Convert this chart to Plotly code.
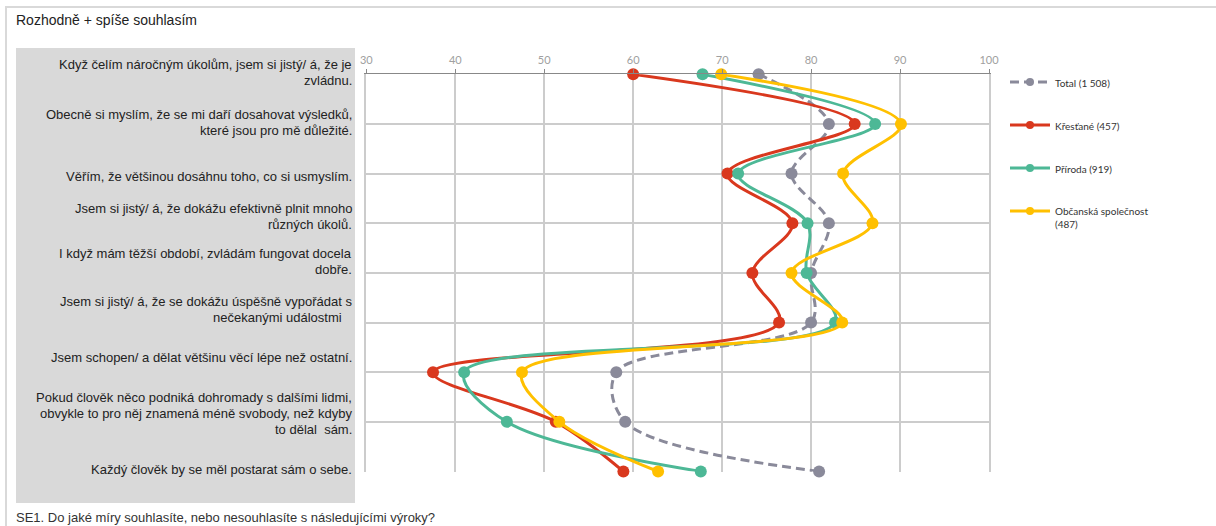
import plotly.graph_objects as go

W, H = 1216, 526

categories = [
    "Když čelím náročným úkolům, jsem si jistý/ á, že je<br>zvládnu.",
    "Obecně si myslím, že se mi daří dosahovat výsledků,<br>které jsou pro mě důležité.",
    "Věřím, že většinou dosáhnu toho, co si usmyslím.",
    "Jsem si jistý/ á, že dokážu efektivně plnit mnoho<br>různých úkolů.",
    "I když mám těžší období, zvládám fungovat docela<br>dobře.",
    "Jsem si jistý/ á, že se dokážu úspěšně vypořádat s<br>nečekanými událostmi\u00a0\u00a0\u00a0",
    "Jsem schopen/ a dělat většinu věcí lépe než ostatní.",
    "Pokud člověk něco podniká dohromady s dalšími lidmi,<br>obvykle to pro něj znamená méně svobody, než kdyby<br>to dělal \u00a0sám.",
    "Každý člověk by se měl postarat sám o sebe.",
]

series_names = ["Total (1 508)", "Křesťané (457)", "Příroda (919)", "Občanská společnost<br>(487)"]
total = [74.1, 82.0, 77.8, 82.0, 80.0, 80.0, 58.1, 59.1, 80.9]
krestane = [60.0, 84.9, 70.6, 77.9, 73.4, 76.4, 37.5, 51.3, 58.9]
priroda = [67.8, 87.2, 71.8, 79.6, 79.5, 82.7, 41.0, 45.8, 67.6]
obcanska = [69.9, 90.1, 83.6, 86.9, 77.8, 83.5, 47.5, 51.7, 62.8]

x_ticks = [30, 40, 50, 60, 70, 80, 90, 100]

title_text = "Rozhodně + spíše souhlasím"
footer_text = "SE1. Do jaké míry souhlasíte, nebo nesouhlasíte s následujícími výroky?"

colors = ["#8a8a9a", "#d9381e", "#4db896", "#ffc000"]
dashes = ["9px,5px", "solid", "solid", "solid"]
# vertical offset (px, positive = up) of each label block relative to its row
label_shift = [1.5, 1.5, -3, 7, 11, 13, 15, 8, 1.5]
LINE_H = 16.0

def px(x):
    return x / W

def py(y):
    return 1 - y / H

rows = list(range(len(categories)))
fig = go.Figure()
for name, vals, col, dash in zip(series_names, [total, krestane, priroda, obcanska], colors, dashes):
    fig.add_trace(go.Scatter(
        x=vals, y=rows, name=name, legendgroup=name, showlegend=False,
        mode="lines+markers",
        line=dict(color=col, width=3, dash=dash, shape="spline", smoothing=1.0),
        marker=dict(color=col, size=12),
        cliponaxis=False,
    ))
# legend entries (no data of their own, smaller legend symbols)
for name, col, dash in zip(series_names, colors, dashes):
    fig.add_trace(go.Scatter(
        x=[None], y=[None], name=name, legendgroup=name, showlegend=True,
        mode="lines+markers", line=dict(color=col, width=3, dash=dash),
        marker=dict(color=col, size=8),
    ))

shapes = [
    dict(type="rect", xref="paper", yref="paper", x0=px(16), x1=px(355), y0=py(503), y1=py(48),
         fillcolor="#d9d9d9", line=dict(width=0), layer="below"),
    dict(type="line", xref="paper", yref="paper", x0=px(5), x1=1, y0=py(7), y1=py(7),
         line=dict(color="#d9d9d9", width=2)),
    dict(type="line", xref="paper", yref="paper", x0=px(6), x1=px(6), y0=py(7), y1=0,
         line=dict(color="#d9d9d9", width=2)),
]

annotations = [
    dict(text=title_text, xref="paper", yref="paper", x=px(14), y=py(20), xanchor="left", yanchor="middle",
         showarrow=False, font=dict(family="Liberation Sans, Arial", size=14, color="#222222")),
    dict(text=footer_text, xref="paper", yref="paper", x=px(14), y=py(517), xanchor="left", yanchor="middle",
         showarrow=False, font=dict(family="Liberation Sans, Arial", size=13, color="#333333")),
]
for i, (lab, sh) in enumerate(zip(categories, label_shift)):
    lines = lab.split("<br>")
    n = len(lines)
    for j, line in enumerate(lines):
        annotations.append(dict(
            text=line, xref="paper", yref="y", x=px(354), y=i, xanchor="right", yanchor="middle",
            align="right", showarrow=False, yshift=sh + ((n - 1) / 2 - j) * LINE_H,
            font=dict(family="Liberation Sans, Arial", size=13, color="#222222")))

fig.update_layout(
    width=W, height=H, autosize=False,
    margin=dict(l=0, r=0, t=0, b=0, pad=0, autoexpand=False),
    paper_bgcolor="white", plot_bgcolor="white",
    shapes=shapes, annotations=annotations,
    xaxis=dict(domain=[px(366.3), px(989)], range=[30, 100], side="top", automargin=False,
               tickvals=x_ticks, showgrid=True, gridcolor="#cccccc", gridwidth=1.5,
               showline=True, linecolor="#888888", linewidth=1, ticks="outside", ticklen=4,
               tickcolor="#888888", zeroline=False, ticklabelstandoff=1,
               tickfont=dict(family="Lato", size=11, color="#a0a0a0")),
    yaxis=dict(domain=[py(471.5), py(74.3)], range=[len(categories) - 1, 0], dtick=1, automargin=False,
               showticklabels=False, showgrid=True, gridcolor="#cccccc", gridwidth=1.5,
               showline=True, mirror=True, linecolor="#cccccc", linewidth=1.5, zeroline=False),
    showlegend=True,
    legend=dict(x=px(1005), y=py(69), xanchor="left", yanchor="top", tracegroupgap=24,
                valign="top", itemwidth=40, bgcolor="rgba(0,0,0,0)",
                font=dict(family="Lato", size=10, color="#333333"), itemsizing="trace"),
)

fig.write_html(
    "out.html",
    config={"displayModeBar": False, "responsive": False},
    post_script="document.body.style.margin='0';document.body.style.overflow='hidden';",
)
